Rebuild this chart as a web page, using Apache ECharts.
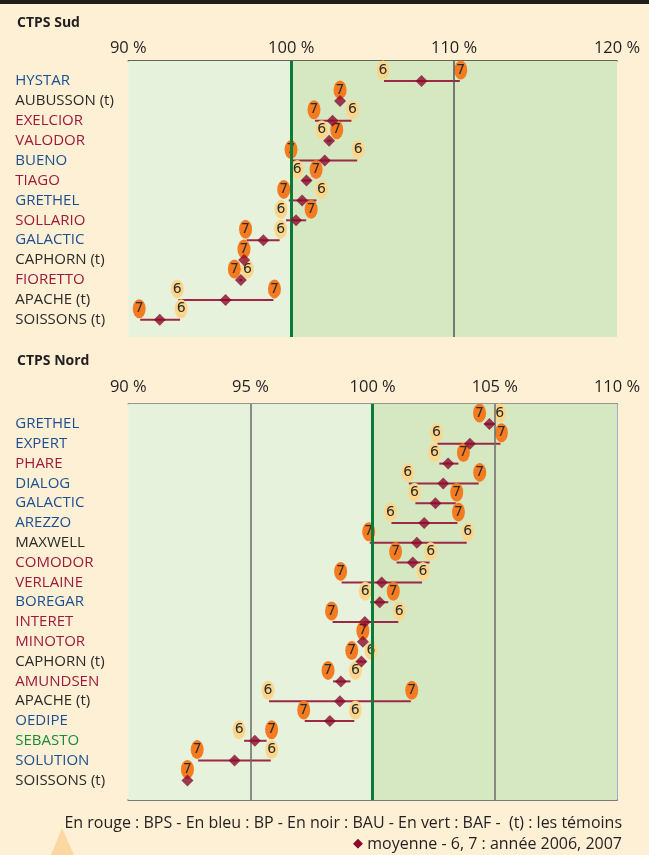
<!DOCTYPE html>
<html><head><meta charset="utf-8">
<script src="https://cdn.jsdelivr.net/npm/echarts@6/dist/echarts.min.js"></script>
<style>html,body{margin:0;padding:0;background:#fef0d5;}#c{width:649px;height:855px;}</style>
</head><body><div id="c"></div>
<script>
// ---------- DATA ----------
const sudTicks = [90, 100, 110, 120];
const sudNames = ['HYSTAR','AUBUSSON (t)','EXELCIOR','VALODOR','BUENO','TIAGO','GRETHEL','SOLLARIO','GALACTIC','CAPHORN (t)','FIORETTO','APACHE (t)','SOISSONS (t)'];
const sudGroup = ['b','k','r','r','b','r','b','r','b','k','r','k','k'];
const sud2006 = [105.7, 103.0, 103.7, 102.18, 104.05, 100.67, 101.55, 99.68, 99.29, 97.1, 97.0, 93.07, 93.18];
const sud2007 = [110.35, 103.0, 101.46, 102.49, 100.05, 101.22, 99.85, 100.92, 97.26, 97.1, 96.82, 98.91, 90.73];
const sudMean = [108.0, 103.0, 102.54, 102.33, 102.06, 100.94, 100.67, 100.3, 98.29, 97.11, 96.91, 95.97, 91.93];
const sudGrey = [110];

const nordTicks = [90, 95, 100, 105, 110];
const nordNames = ['GRETHEL','EXPERT','PHARE','DIALOG','GALACTIC','AREZZO','MAXWELL','COMODOR','VERLAINE','BOREGAR','INTERET','MINOTOR','CAPHORN (t)','AMUNDSEN','APACHE (t)','OEDIPE','SEBASTO','SOLUTION','SOISSONS (t)'];
const nordGroup = ['b','b','r','b','b','b','k','r','r','b','r','r','k','r','k','b','g','b','k'];
const nord2006 = [104.99, 102.65, 102.73, 101.48, 101.75, 100.77, 103.85, 102.33, 102.02, 99.90, 101.05, 99.6, 99.73, 99.09, 95.76, 99.25, 94.74, 95.83, 92.42];
const nord2007 = [104.58, 105.23, 103.51, 104.34, 103.40, 103.47, 99.88, 100.98, 98.73, 100.64, 98.36, 99.6, 99.35, 98.38, 101.56, 97.22, 95.66, 92.86, 92.42];
const nordMean = [104.78, 103.98, 103.09, 102.89, 102.57, 102.11, 101.81, 101.64, 100.37, 100.29, 99.68, 99.6, 99.54, 98.70, 98.66, 98.25, 95.18, 94.35, 92.42];
const nordGrey = [95, 105];

const target = 100;

// ---------- STYLE ----------
const FONT = 'Open Sans';
const GROUP_COLORS = {b:'#1d4e92', r:'#9e1a3b', k:'#2a2a2a', g:'#1b8a3b'};
const LIGHT = '#e7f2dc', DARK = '#d5e8c1', GREEN = '#0b7b36';
const LINE = '#9c2945', DIAMOND = '#8a0a2c', C6 = '#fdd68b', C7 = '#f47b20';
const rich = {};
Object.keys(GROUP_COLORS).forEach(k => rich[k] = {color: GROUP_COLORS[k], fontSize: 15, fontFamily: FONT});

const L = 128.3, W = 488.7;

const chart = echarts.init(document.getElementById('c'), null, {renderer: 'canvas'});

function bgX(gridIndex, ticks, lineColor, margin) {
  return {type:'value', gridIndex, position:'top', min:ticks[0], max:ticks[ticks.length-1], interval:ticks[1]-ticks[0],
    axisLine:{show:true, onZero:false, lineStyle:{color:lineColor, width:1.5}}, axisTick:{show:false},
    axisLabel:{margin, formatter:'{value} %', color:'#231f20', fontSize:16.5, fontFamily:FONT},
    splitLine:{show:false}, splitArea:{show:false}};
}
function dataX(gridIndex, ticks) {
  return {type:'value', gridIndex, min:ticks[0], max:ticks[ticks.length-1], interval:ticks[1]-ticks[0], show:false, splitLine:{show:false}};
}
function catY(gridIndex, names, groups) {
  return {type:'category', gridIndex, data:names, inverse:true, boundaryGap:true,
    axisLine:{show:false}, axisTick:{show:false}, splitLine:{show:false},
    axisLabel:{align:'left', margin:113, formatter:(v, i) => '{' + groups[i] + '|' + v + '}', rich}};
}
function bgSeries(xi, yi, ticks, greys, greyColor) {
  const mn = ticks[0], mx = ticks[ticks.length-1];
  return {type:'line', xAxisIndex:xi, yAxisIndex:yi, data:[], silent:true, z:-1,
    markArea:{silent:true, data:[
      [{xAxis:mn, itemStyle:{color:LIGHT}}, {xAxis:target}],
      [{xAxis:target, itemStyle:{color:DARK}}, {xAxis:mx}]
    ]},
    markLine:{silent:true, symbol:'none', label:{show:false}, animation:false,
      data: greys.map(g => ({xAxis:g, lineStyle:{color:greyColor, width:1.5, type:'solid'}}))
        .concat([{xAxis:target, lineStyle:{color:GREEN, width:3, type:'solid'}}])}};
}
function rangeSeries(xi, yi, a, b) {
  return {type:'custom', xAxisIndex:xi, yAxisIndex:yi, silent:true,
    renderItem:(params, api) => {
      const p1 = api.coord([api.value(0), api.value(2)]);
      const p2 = api.coord([api.value(1), api.value(2)]);
      return {type:'line', shape:{x1:p1[0], y1:p1[1], x2:p2[0], y2:p2[1]}, style:{stroke:LINE, lineWidth:2}};
    },
    encode:{x:[0,1], y:2},
    data: a.map((v, i) => [Math.min(v, b[i]), Math.max(v, b[i]), i])};
}
function meanSeries(xi, yi, m) {
  return {type:'scatter', xAxisIndex:xi, yAxisIndex:yi, symbol:'diamond', symbolSize:[12,12], z:5, silent:true,
    itemStyle:{color:DIAMOND}, data: m.map((v, i) => [v, i])};
}
function bubbleSeries(xi, yi, vals, other, txt, color, z, ppu) {
  return {type:'scatter', xAxisIndex:xi, yAxisIndex:yi, symbol:'circle', symbolSize:[13,19], z, silent:true,
    itemStyle:{color, opacity:1},
    label:{show:true, position:'inside', formatter:txt, color:'#2b2b2b', fontSize:14, fontFamily:'DejaVu Sans'},
    data: vals.map((v, i) => {
      let dx = 0;
      if (ppu) {
        const sep = Math.abs(v - other[i]) * ppu;
        if (sep > 0) {
          const tot = sep < 30 ? Math.max(13, sep + 10) : sep + 2;
          dx = (v < other[i] ? -1 : 1) * (tot - sep) / 2;
        }
      }
      return {value:[v, i], symbolOffset:[dx, -11]};
    })};
}

function build(ppuSud, ppuNord) {
  return {
    backgroundColor:'#fef0d5',
    animation:false,
    title:[
      {text:'CTPS Sud', left:12, top:11, textStyle:{fontSize:14, fontWeight:'bold', color:'#231f20', fontFamily:FONT}},
      {text:'CTPS Nord', left:12, top:349, textStyle:{fontSize:14, fontWeight:'bold', color:'#231f20', fontFamily:FONT}}
    ],
    grid:[
      {left:L, width:W, top:61, height:276, containLabel:false, outerBoundsMode:'none'},
      {left:L, width:W, top:71.05, height:258.7, containLabel:false, outerBoundsMode:'none'},
      {left:L, width:W, top:404, height:396, containLabel:false, outerBoundsMode:'none'},
      {left:L, width:W, top:414.1, height:376.2, containLabel:false, outerBoundsMode:'none'}
    ],
    xAxis:[
      bgX(0, sudTicks, '#333', 4),
      dataX(1, sudTicks),
      bgX(2, nordTicks, '#777', 8),
      dataX(3, nordTicks),
      {type:'value', gridIndex:2, position:'bottom', min:nordTicks[0], max:nordTicks[nordTicks.length-1],
       axisLine:{show:true, onZero:false, lineStyle:{color:'#7a7a7a', width:2}}, axisTick:{show:false}, axisLabel:{show:false}, splitLine:{show:false}}
    ],
    yAxis:[
      {type:'value', gridIndex:0, min:0, max:1, show:false},
      catY(1, sudNames, sudGroup),
      {type:'value', gridIndex:2, min:0, max:1, position:'right',
       axisLine:{show:true, onZero:false, lineStyle:{color:'#9fb0c9', width:2}}, axisTick:{show:false}, axisLabel:{show:false}, splitLine:{show:false}},
      catY(3, nordNames, nordGroup)
    ],
    series:[
      bgSeries(0, 0, sudTicks, sudGrey, '#555'),
      rangeSeries(1, 1, sud2006, sud2007),
      bubbleSeries(1, 1, sud2006, sud2007, '6', C6, 3, ppuSud),
      bubbleSeries(1, 1, sud2007, sud2006, '7', C7, 4, ppuSud),
      meanSeries(1, 1, sudMean),
      bgSeries(2, 2, nordTicks, nordGrey, '#6a6a6a'),
      rangeSeries(3, 3, nord2006, nord2007),
      bubbleSeries(3, 3, nord2006, nord2007, '6', C6, 3, ppuNord),
      bubbleSeries(3, 3, nord2007, nord2006, '7', C7, 4, ppuNord),
      meanSeries(3, 3, nordMean)
    ],
    graphic:[
      {type:'rect', shape:{x:0, y:0, width:649, height:4}, style:{fill:'#211d1a'}, silent:true},
      {type:'polygon', shape:{points:[[62,828],[51,855],[74,855]]}, style:{fill:'#fbd7a2'}, silent:true},
      {type:'text', x:622, y:823, silent:true,
       style:{text:'En rouge : BPS - En bleu : BP - En noir : BAU - En vert : BAF -  (t) : les témoins', align:'right', verticalAlign:'middle', font:'16px "Open Sans"', fill:'#231f20'}},
      {type:'text', x:622, y:844, silent:true,
       style:{text:'{d|◆} moyenne - 6, 7 : année 2006, 2007', align:'right', verticalAlign:'middle', font:'16px "Open Sans"', fill:'#231f20',
        rich:{d:{fill:DIAMOND, font:'13px "DejaVu Sans"'}}}}
    ]
  };
}

chart.setOption(build(0, 0));
const ppuSud = (chart.convertToPixel({xAxisIndex:1}, sudTicks[1]) - chart.convertToPixel({xAxisIndex:1}, sudTicks[0])) / (sudTicks[1] - sudTicks[0]);
const ppuNord = (chart.convertToPixel({xAxisIndex:3}, nordTicks[1]) - chart.convertToPixel({xAxisIndex:3}, nordTicks[0])) / (nordTicks[1] - nordTicks[0]);
chart.setOption(build(ppuSud, ppuNord), true);
</script>
</body></html>
